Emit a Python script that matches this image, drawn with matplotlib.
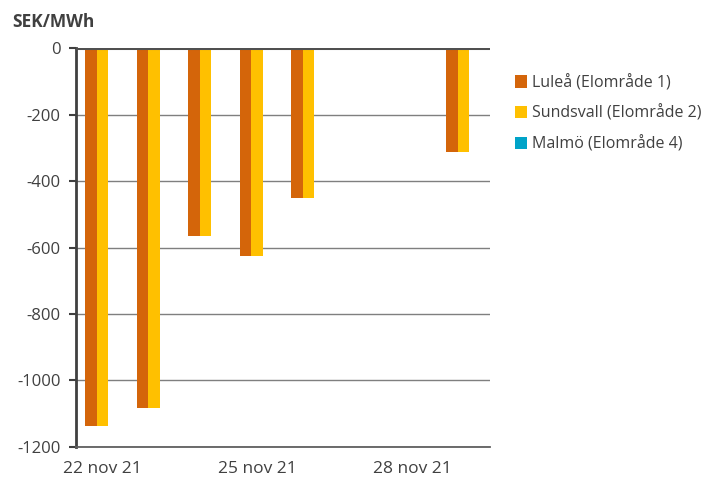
import numpy as np
import matplotlib.pyplot as plt

# Negative elpriser per elområde, nov 2021
dagar = ["22 nov 21", "23 nov 21", "24 nov 21", "25 nov 21",
         "26 nov 21", "27 nov 21", "28 nov 21", "29 nov 21"]
lulea = [-1137, -1082, -564, -625, -451, 0, 0, -313]
sundsvall = [-1137, -1082, -564, -625, -451, 0, 0, -313]
malmo = [0, 0, 0, 0, 0, 0, 0, 0]

serier = ["Luleå (Elområde 1)", "Sundsvall (Elområde 2)", "Malmö (Elområde 4)"]
farger = ["#D4650A", "#FFC000", "#00A3C8"]

plt.rcParams['font.family'] = ['Open Sans', 'DejaVu Sans']

fig = plt.figure(figsize=(7.1, 4.82), dpi=100)
ax = fig.add_axes([0.107, 0.073, 0.583, 0.827])

x = np.arange(len(dagar))
w = 0.223
for i, (vals, namn, f) in enumerate(zip([lulea, sundsvall, malmo], serier, farger)):
    ax.bar(x + (i - 1) * w, vals, width=w, color=f, label=namn, zorder=3)

ax.set_xlim(-0.51, len(dagar) - 0.49)
ax.set_ylim(-1200, 0)
ax.set_yticks(np.arange(-1200, 1, 200))
ax.set_yticklabels([str(v) for v in np.arange(-1200, 1, 200)])
ax.set_xticks(x[::3])
ax.set_xticklabels(dagar[::3])

ax.grid(axis='y', color='#7f7f7f', linewidth=1.0, zorder=0)
ax.axhline(0, color='#505050', linewidth=2.2, zorder=4)
ax.axhline(-1200, color='#606060', linewidth=1.3, zorder=4, clip_on=False)

for s in ['top', 'right', 'bottom']:
    ax.spines[s].set_visible(False)
ax.spines['left'].set_color('#404040')
ax.spines['left'].set_linewidth(2)
ax.tick_params(axis='y', length=5, width=1.5, color='#404040', labelsize=12,
               labelcolor='#404040', pad=6)
ax.tick_params(axis='x', length=0, labelsize=12.5, labelcolor='#404040', pad=10)

fig.text(0.017, 0.955, "SEK/MWh", fontsize=12.5, fontweight='bold',
         color='#404040', va='center')

ax.legend(loc='upper left', bbox_to_anchor=(1.025, 0.97), frameon=False,
          fontsize=11.5, labelcolor='#404040', handlelength=0.8, handleheight=0.8,
          handletextpad=0.3, labelspacing=0.9)

fig.savefig("out.png", dpi=100)
